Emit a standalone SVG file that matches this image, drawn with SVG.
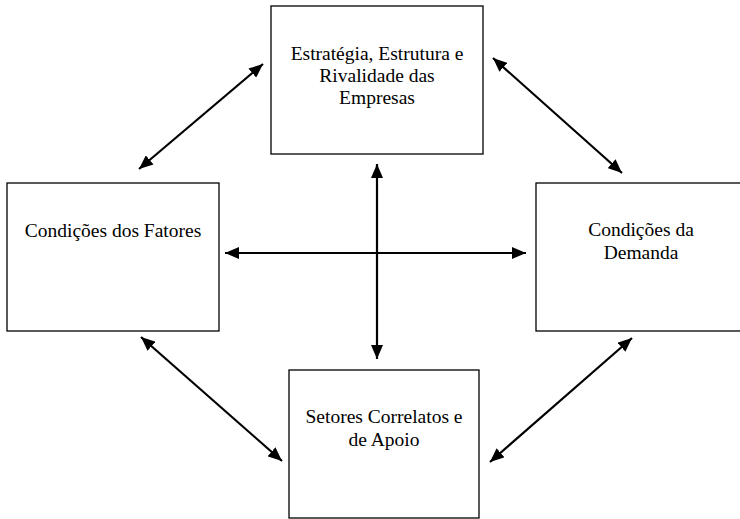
<svg xmlns="http://www.w3.org/2000/svg" width="740" height="519" viewBox="0 0 740 519">
<style>
.box{fill:#fff;stroke:#000;stroke-width:1.3}
.lbl{font-family:"Liberation Serif","Times New Roman",serif;font-size:19.5px;fill:#000;text-anchor:middle}
.conn{stroke:#000;stroke-width:2.2;fill:none;marker-start:url(#ah);marker-end:url(#ah)}
</style>
<defs>
<marker id="ah" markerUnits="userSpaceOnUse" markerWidth="14" markerHeight="12" refX="14" refY="6" orient="auto-start-reverse" viewBox="0 0 14 12">
<path d="M0,0 L14,6 L0,12 z" fill="#000"/>
</marker>
</defs>
<rect width="740" height="519" fill="#fff"/>
<g id="connectors">
<line class="conn" x1="139" y1="169" x2="263" y2="64"/>
<line class="conn" x1="493" y1="58" x2="622" y2="173"/>
<line class="conn" x1="141" y1="337" x2="282" y2="461"/>
<line class="conn" x1="490" y1="462" x2="632" y2="338"/>
<line class="conn" x1="377" y1="164" x2="377" y2="359"/>
<line class="conn" x1="225" y1="253" x2="526" y2="253"/>
</g>
<g id="node-top">
<rect class="box" x="271" y="6" width="212" height="148"/>
<text class="lbl" x="377" y="60">Estratégia, Estrutura e</text>
<text class="lbl" x="377" y="82">Rivalidade das</text>
<text class="lbl" x="377" y="104">Empresas</text>
</g>
<g id="node-left">
<rect class="box" x="7" y="183" width="212" height="148"/>
<text class="lbl" x="113" y="237">Condições dos Fatores</text>
</g>
<g id="node-right">
<rect class="box" x="536" y="183" width="210" height="148"/>
<text class="lbl" x="641" y="236">Condições da</text>
<text class="lbl" x="641" y="259">Demanda</text>
</g>
<g id="node-bottom">
<rect class="box" x="289" y="370" width="190" height="148"/>
<text class="lbl" x="384" y="423">Setores Correlatos e</text>
<text class="lbl" x="384" y="446">de Apoio</text>
</g>
</svg>
